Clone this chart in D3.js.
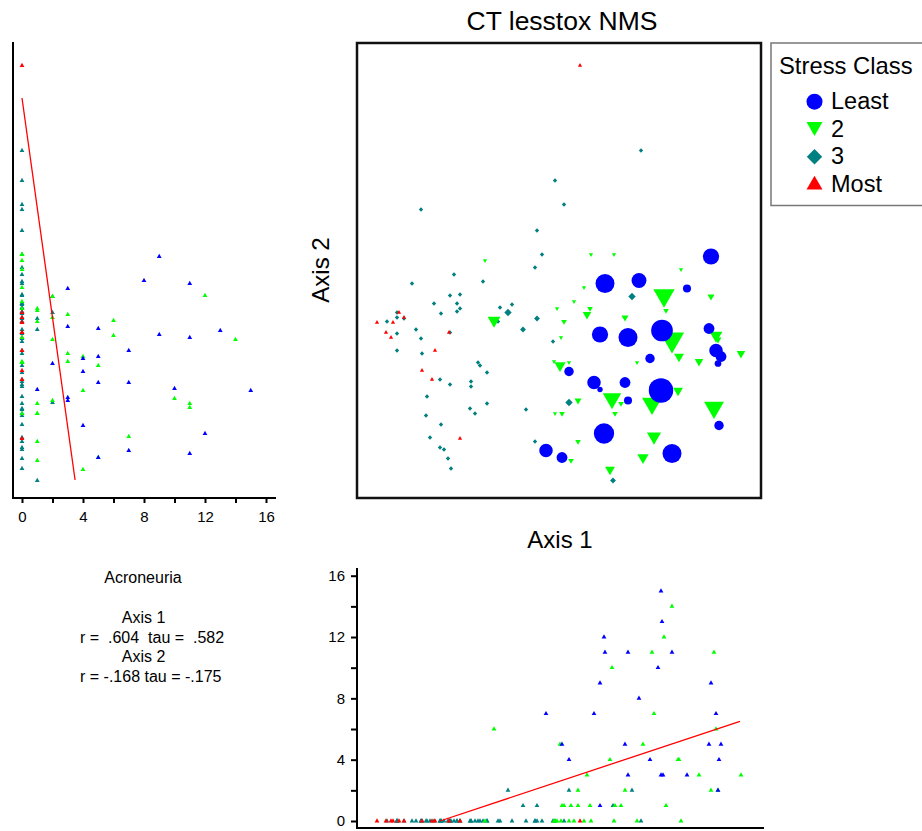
<!DOCTYPE html>
<html><head><meta charset="utf-8">
<script src="https://cdn.jsdelivr.net/npm/d3@7"></script>
<style>
body{margin:0;background:#fff;}
text{font-family:Arial,"Liberation Sans",sans-serif;fill:#000;}
</style>
</head><body>
<svg id="chart" width="922" height="831"></svg>
<script>
// ---------- DATA ----------
const classNames = ["Least", "2", "3", "Most"];
const classColors = ["#0000ff", "#00ff00", "#008080", "#ff0000"];

// Least stressed (class 1)
const leastAxis1 = [1.52,0.46,0.80,1.28,0.41,0.69,1.02,1.03,1.50,1.57,1.62,1.59,0.91,0.10,0.35,0.41,0.66,0.99,1.04,1.02,0.69,1.60,0.45,0.03,1.13,-0.13];
const leastAxis2 = [0.14,-0.13,-0.10,-0.18,-0.64,-0.67,-0.56,-0.60,-0.58,-0.80,-0.86,-0.93,-0.88,-1.01,-1.12,-1.19,-1.12,-1.18,-1.27,-1.20,-1.30,-1.55,-1.63,-1.87,-1.83,-1.80];
const leastAbund = [9,11,8,3,9,11,3,13,5,7,5,2,4,4,7,1,5,10,3,15,3,4,12,5,11,7];

// Class 2
const c2Axis1 = [-0.74,0.32,0.55,1.22,1.05,0.25,1.52,0.15,1.07,-0.02,0.31,0.28,0.05,0.66,0.02,1.13,1.57,1.59,1.82,1.20,1.40,0.78,0.01,0.10,1.19,0.53,0.62,0.93,0.19,-0.04,0.03,0.56,1.55,0.95,0.19,0.12,0.84,0.51,-0.65,-0.05];
const c2Axis2 = [0.10,0.16,0.16,0.01,-0.25,-0.17,-0.26,-0.31,-0.40,-0.38,-0.38,-0.44,-0.51,-0.47,-0.67,-0.69,-0.65,-0.69,-0.83,-0.86,-0.91,-0.92,-0.95,-0.92,-1.20,-1.28,-1.33,-1.33,-1.30,-1.43,-1.43,-1.43,-1.37,-1.66,-1.71,-1.90,-1.87,-1.99,-0.50,-0.91];
const c2Abund = [0,0,0,0,12,0,2,0,1,0,1,3,1,2,0,14,6,2,3,4,3,0,5,0,4,10,1,11,2,0,1,1,11,7,1,1,5,4,6,0];

// Class 3
const c3Axis1 = [-1.38,-0.22,-0.17,-0.24,-0.04,0.82,0.05,-1.05,-1.47,-0.76,-1.09,-0.99,-1.25,-1.02,-0.59,-0.47,-0.99,-1.02,-1.18,-0.51,-1.62,-1.55,-1.62,-1.72,-0.61,-0.22,-0.36,-1.43,-1.62,-1.09,-1.38,-0.06,-1.62,-1.37,-0.81,-0.79,-0.72,-1.19,-1.09,-0.88,-0.88,-1.32,-0.72,-0.89,-0.84,-0.33,-1.33,-1.18,-1.29,-0.24,-1.19,-1.15,-1.11,-1.08,0.73,0.10,0.54];
const c3Axis2 = [0.61,0.40,0.16,0.03,0.90,1.20,0.66,-0.04,-0.13,-0.11,-0.25,-0.24,-0.33,-0.33,-0.37,-0.34,-0.38,-0.41,-0.43,-0.42,-0.42,-0.48,-0.47,-0.51,-0.51,-0.48,-0.59,-0.59,-0.63,-0.62,-0.68,-0.71,-0.80,-0.83,-0.92,-0.95,-1.02,-1.09,-1.14,-1.11,-1.16,-1.26,-1.33,-1.38,-1.43,-1.39,-1.45,-1.54,-1.67,-1.71,-1.77,-1.79,-1.88,-1.98,-0.26,-1.32,-2.10];
const c3Abund = [0,0,0,0,0,0,0,0,0,0,0,0,0,0,0,0,0,0,0,2,0,0,0,0,0,1,1,0,0,0,0,0,0,0,0,0,0,0,0,0,0,0,0,0,0,0,0,0,0,0,0,0,0,0,2,2,1];

// Most stressed (class 4)
const mostAxis1 = [0.21,-1.60,-1.55,-1.82,-1.66,-1.73,-1.10,-1.68,-1.24,-1.37,-1.27,-0.99];
const mostAxis2 = [2.05,-0.42,-0.47,-0.52,-0.52,-0.62,-0.62,-0.67,-0.80,-1.00,-1.09,-1.68];
const mostAbund = [0,0,0,0,0,0,0,0,0,0,0,0];

// Regression lines (endpoints)
const lineAxis2Abund = [0, 3.48];
const lineAxis2Score = [1.725, -2.095];
const lineAxis1Score = [-1.19, 1.81];
const lineAxis1Abund = [0, 6.5];

const abundTicks = [0,2,4,6,8,10,12,14,16];
const abundTickLabels = [0,4,8,12,16];

const titleText = "CT lesstox NMS";
const taxon = "Acroneuria";
const statLines = ["Axis 1", "r =  .604  tau =  .582", "Axis 2", "r = -.168 tau = -.175"];

// ---------- BUILD ----------
const groups = [
  {cls:2, a1:c3Axis1, a2:c3Axis2, ab:c3Abund},
  {cls:3, a1:mostAxis1, a2:mostAxis2, ab:mostAbund},
  {cls:1, a1:c2Axis1, a2:c2Axis2, ab:c2Abund},
  {cls:0, a1:leastAxis1, a2:leastAxis2, ab:leastAbund}
];
const sites = [];
groups.forEach(g => g.a1.forEach((v,i) => sites.push({cls:g.cls, ax1:v, ax2:g.a2[i], ab:g.ab[i]})));

const svg = d3.select("#chart");

const x = d3.scaleLinear().domain([-2.02, 2.02]).range([357, 761]);
const y = d3.scaleLinear().domain([-2.275, 2.275]).range([498, 43]);
const leftX = d3.scaleLinear().domain([0,16]).range([22, 266]);
const botY = d3.scaleLinear().domain([0,16]).range([821, 575.7]);

const sz = ab => 2 + 0.68*ab;
function symbolPath(cls, s){
  if (cls === 0) return d3.symbol().type(d3.symbolCircle).size(Math.PI*s*s)();
  if (cls === 2) return d3.symbol().type(d3.symbolSquare).size(2*(1.1*s)*(1.1*s))();
  const side = 2.1*s;
  return d3.symbol().type(d3.symbolTriangle).size(Math.sqrt(3)/4*side*side)();
}
function rot(cls){ return cls === 1 ? " rotate(180)" : (cls === 2 ? " rotate(45)" : ""); }

// ---------- MAIN PLOT ----------
svg.append("text").attr("x", 562).attr("y", 30).attr("text-anchor","middle")
  .style("font-size","26.5px").text(titleText);

svg.append("g").selectAll("path").data(sites).join("path")
  .attr("d", d => symbolPath(d.cls, sz(d.ab)))
  .attr("transform", d => `translate(${x(d.ax1)},${y(d.ax2)})` + rot(d.cls))
  .attr("fill", d => classColors[d.cls]);

svg.append("rect").attr("x", 357).attr("y", 43).attr("width", 404).attr("height", 455)
  .attr("fill","none").attr("stroke","#111").attr("stroke-width",2.5);

svg.append("text").attr("x", 560).attr("y", 548).attr("text-anchor","middle")
  .style("font-size","24px").text("Axis 1");
svg.append("text").attr("transform","translate(329,270) rotate(-90)").attr("text-anchor","middle")
  .style("font-size","24px").text("Axis 2");

// ---------- LEGEND ----------
const leg = svg.append("g");
leg.append("rect").attr("x", 771).attr("y", 43).attr("width", 160).attr("height", 162.5)
  .attr("fill","#fff").attr("stroke","#777").attr("stroke-width",1.5);
leg.append("text").attr("x", 779).attr("y", 74).style("font-size","23.8px").text("Stress Class");
const legY = [101.7, 126.7, 156.7, 185];
const legBase = [109.3, 136.7, 164.3, 191.7];
classNames.forEach((n,i) => {
  const s = i===0 ? 8 : (i===2 ? 7 : 7.6);
  leg.append("path").attr("d", symbolPath(i, s))
    .attr("transform", `translate(814.5,${legY[i]})` + rot(i)).attr("fill", classColors[i]);
  leg.append("text").attr("x", 831).attr("y", legBase[i]).style("font-size","23.5px").text(n);
});

// ---------- LEFT PANEL (abundance vs Axis 2) ----------
const tri = d3.symbol().type(d3.symbolTriangle).size(10)();
const lp = svg.append("g");
lp.append("g").selectAll("path").data(sites).join("path")
  .attr("d", tri).attr("transform", d => `translate(${leftX(d.ab)},${y(d.ax2)})`)
  .attr("fill", d => classColors[d.cls]);
lp.append("line").attr("x1", leftX(lineAxis2Abund[0])).attr("y1", y(lineAxis2Score[0]))
  .attr("x2", leftX(lineAxis2Abund[1])).attr("y2", y(lineAxis2Score[1]))
  .attr("stroke","#ff0000").attr("stroke-width",1.3);
const lax = lp.append("g").attr("transform","translate(0,498)")
  .call(d3.axisBottom(leftX).tickValues(abundTicks).tickSize(5).tickPadding(8)
    .tickFormat(d => abundTickLabels.includes(d) ? d : ""));
lax.select(".domain").remove();
lax.selectAll("line").attr("stroke","#000").attr("stroke-width",2);
lax.selectAll("text").style("font-size","15px").style("font-family","Arial, 'Liberation Sans', sans-serif");
lp.append("line").attr("x1",13).attr("y1",42).attr("x2",13).attr("y2",499).attr("stroke","#000").attr("stroke-width",2);
lp.append("line").attr("x1",12).attr("y1",498).attr("x2",276).attr("y2",498).attr("stroke","#000").attr("stroke-width",2);

// ---------- BOTTOM PANEL (Axis 1 vs abundance) ----------
const bp = svg.append("g");
bp.append("g").selectAll("path").data(sites).join("path")
  .attr("d", tri).attr("transform", d => `translate(${x(d.ax1)},${botY(d.ab)})`)
  .attr("fill", d => classColors[d.cls]);
bp.append("line").attr("x1", x(lineAxis1Score[0])).attr("y1", botY(lineAxis1Abund[0]))
  .attr("x2", x(lineAxis1Score[1])).attr("y2", botY(lineAxis1Abund[1]))
  .attr("stroke","#ff0000").attr("stroke-width",1.3);
const bax = bp.append("g").attr("transform","translate(357,0)")
  .call(d3.axisLeft(botY).tickValues(abundTicks).tickSize(6).tickPadding(6)
    .tickFormat(d => abundTickLabels.includes(d) ? d : ""));
bax.select(".domain").remove();
bax.selectAll("line").attr("stroke","#000").attr("stroke-width",2);
bax.selectAll("text").style("font-size","15px").style("font-family","Arial, 'Liberation Sans', sans-serif");
bp.append("line").attr("x1",357).attr("y1",568).attr("x2",357).attr("y2",829).attr("stroke","#000").attr("stroke-width",2);
bp.append("line").attr("x1",356).attr("y1",828).attr("x2",764).attr("y2",828).attr("stroke","#000").attr("stroke-width",2);

// ---------- STATS TEXT ----------
const st = svg.append("g").style("font-size","16px");
st.append("text").attr("x",143).attr("y",583).attr("text-anchor","middle").text(taxon);
const statY = [623, 643, 662, 682];
statLines.forEach((t,i) => {
  const isR = t.startsWith("r");
  st.append("text").attr("x", isR ? 80 : 143.5).attr("y",statY[i])
    .attr("text-anchor", isR ? "start" : "middle")
    .attr("xml:space","preserve").style("white-space","pre").text(t);
});
</script>
</body></html>
